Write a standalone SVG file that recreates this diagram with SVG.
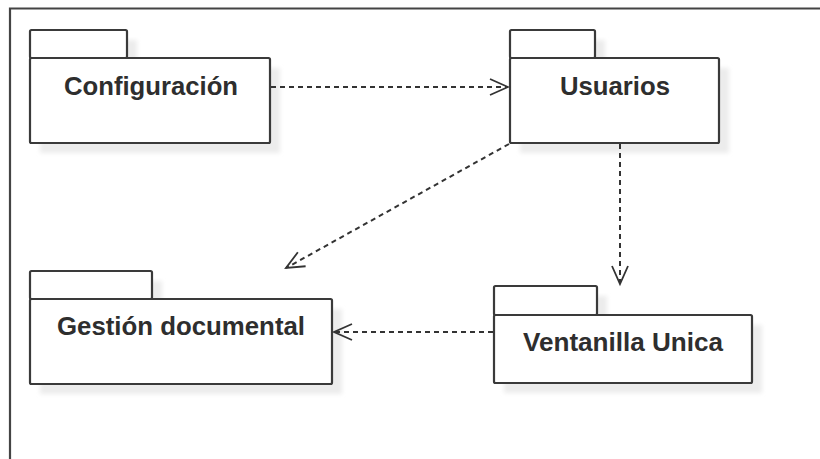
<svg xmlns="http://www.w3.org/2000/svg" width="820" height="459" viewBox="0 0 820 459">
  <defs>
    <filter id="soft" x="-10%" y="-10%" width="130%" height="130%">
      <feGaussianBlur stdDeviation="2"/>
    </filter>
    <marker id="open" viewBox="0 0 24 24" refX="21" refY="12" markerWidth="24" markerHeight="24" markerUnits="userSpaceOnUse" orient="auto">
      <path d="M3,4 L21,12 L3,20" fill="none" stroke="#333" stroke-width="1.8"/>
    </marker>
  </defs>
  <style>
    .shadow { fill: #ececec; filter: url(#soft); }
    .pkg { fill: #ffffff; stroke: #3a3a3a; stroke-width: 2.2; stroke-linejoin: round; }
    .label { font-family: "Liberation Sans", Arial, sans-serif; font-weight: bold; font-size: 26.5px; fill: #2e2e2e; text-anchor: middle; }
    .dep { fill: none; stroke: #333; stroke-width: 2; stroke-dasharray: 5 4; marker-end: url(#open); }
    .frame { fill: none; stroke: #444; stroke-width: 2.2; }
  </style>

  <rect width="820" height="459" fill="#ffffff"/>
  <path class="frame" d="M10,460 V8.5 H821"/>

  <g id="configuracion">
    <rect class="shadow" x="40" y="40" width="97" height="28"/>
    <rect class="shadow" x="40" y="68" width="240" height="85"/>
    <rect class="pkg" x="30" y="30" width="97" height="28" rx="1.5"/>
    <rect class="pkg" x="30" y="58" width="240" height="85" rx="1.5"/>
    <text class="label" x="151" y="95" textLength="174" lengthAdjust="spacingAndGlyphs">Configuración</text>
  </g>

  <g id="usuarios">
    <rect class="shadow" x="520" y="40" width="85" height="28"/>
    <rect class="shadow" x="520" y="68" width="209" height="85"/>
    <rect class="pkg" x="510" y="30" width="85" height="28" rx="1.5"/>
    <rect class="pkg" x="510" y="58" width="209" height="85" rx="1.5"/>
    <text class="label" x="615" y="95" textLength="110" lengthAdjust="spacingAndGlyphs">Usuarios</text>
  </g>

  <g id="gestion-documental">
    <rect class="shadow" x="40" y="281" width="122" height="28"/>
    <rect class="shadow" x="40" y="309" width="302" height="85"/>
    <rect class="pkg" x="30" y="271" width="122" height="28" rx="1.5"/>
    <rect class="pkg" x="30" y="299" width="302" height="85" rx="1.5"/>
    <text class="label" x="181" y="335" textLength="248" lengthAdjust="spacingAndGlyphs">Gestión documental</text>
  </g>

  <g id="ventanilla-unica">
    <rect class="shadow" x="504" y="296" width="103" height="29"/>
    <rect class="shadow" x="504" y="325" width="258" height="68"/>
    <rect class="pkg" x="494" y="286" width="103" height="29" rx="1.5"/>
    <rect class="pkg" x="494" y="315" width="258" height="68" rx="1.5"/>
    <text class="label" x="623" y="351" textLength="200" lengthAdjust="spacingAndGlyphs">Ventanilla Unica</text>
  </g>

  <g id="connectors">
    <line class="dep" x1="271" y1="87" x2="508" y2="87"/>
    <line class="dep" x1="509" y1="144" x2="286" y2="268"/>
    <line class="dep" x1="620" y1="144" x2="620" y2="284"/>
    <line class="dep" x1="493" y1="332" x2="334" y2="332"/>
  </g>
</svg>
